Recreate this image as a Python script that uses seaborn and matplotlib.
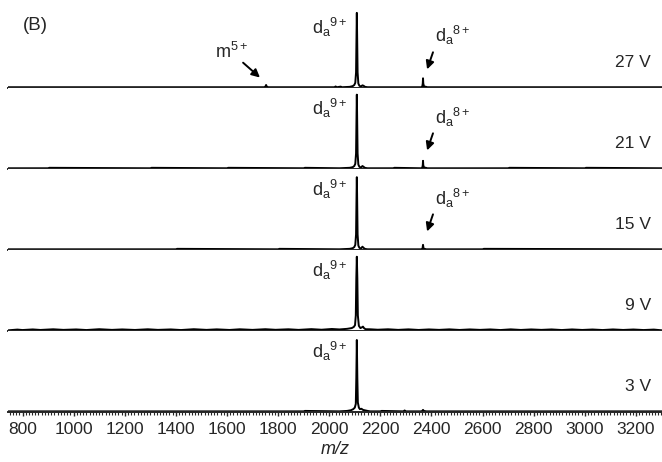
import numpy as np
import pandas as pd
import matplotlib
matplotlib.use('Agg')
import matplotlib.pyplot as plt
from matplotlib.ticker import MultipleLocator
import seaborn as sns

# 各电压下的质谱数据 (m/z, 相对强度)
voltages = ['27 V', '21 V', '15 V', '9 V', '3 V']

mz_27 = [743, 1500, 1745, 1750, 1753, 1756, 1762, 2020, 2025, 2030, 2045, 2050, 2080,
         2092, 2098, 2102, 2105, 2107, 2108, 2109, 2111, 2114, 2118, 2124, 2130, 2134,
         2140, 2150, 2360, 2364, 2366, 2367, 2368, 2371, 2378, 2384, 3302]
int_27 = [0, 0, 0, 0.006, 0.03, 0.006, 0, 0, 0.01, 0, 0.008, 0, 0.005,
          0.015, 0.03, 0.06, 0.2, 0.75, 1.0, 0.75, 0.2, 0.05, 0.02, 0.01, 0.025, 0.02,
          0.005, 0, 0, 0.01, 0.05, 0.12, 0.05, 0.01, 0.006, 0, 0]

mz_21 = [743, 900, 905, 1300, 1305, 1600, 1605, 1900, 1905, 2040, 2080, 2092, 2098,
         2102, 2105, 2107, 2108, 2109, 2111, 2114, 2118, 2124, 2130, 2134, 2140, 2150,
         2250, 2255, 2360, 2364, 2366, 2367, 2368, 2371, 2378, 2384, 2700, 2705,
         3000, 3005, 3302]
int_21 = [0, 0, 0.006, 0, 0.006, 0, 0.006, 0, 0.006, 0, 0.006, 0.015, 0.03,
          0.06, 0.2, 0.75, 0.99, 0.75, 0.2, 0.05, 0.02, 0.01, 0.03, 0.02, 0.005, 0,
          0, 0.006, 0, 0.008, 0.04, 0.1, 0.04, 0.01, 0.006, 0, 0, 0.006,
          0, 0.006, 0]

mz_15 = [743, 1400, 1405, 1800, 1805, 2040, 2080, 2092, 2098, 2102, 2105, 2107, 2108,
         2109, 2111, 2114, 2118, 2124, 2130, 2134, 2140, 2150, 2360, 2365, 2367, 2369,
         2374, 2380, 2600, 2605, 3302]
int_15 = [0, 0, 0.006, 0, 0.006, 0, 0.006, 0.015, 0.03, 0.06, 0.2, 0.75, 0.97,
          0.75, 0.2, 0.05, 0.02, 0.01, 0.035, 0.02, 0.005, 0, 0, 0.01, 0.06, 0.01,
          0.005, 0, 0, 0.006, 0]

mz_9 = [743, 780, 800, 840, 870, 920, 960, 1010, 1050, 1100, 1150, 1190, 1240, 1290,
        1330, 1380, 1420, 1470, 1520, 1560, 1610, 1650, 1700, 1750, 1790, 1840, 1880,
        1930, 1970, 2010, 2040, 2070, 2088, 2096, 2101, 2104, 2106, 2108, 2110, 2112,
        2116, 2122, 2128, 2132, 2136, 2142, 2160, 2190, 2230, 2270, 2310, 2350, 2390,
        2430, 2470, 2510, 2550, 2590, 2630, 2670, 2710, 2750, 2790, 2830, 2870, 2910,
        2950, 2990, 3030, 3070, 3110, 3150, 3190, 3230, 3270, 3302]
int_9 = [0, 0.01, 0.004, 0.012, 0.005, 0.014, 0.006, 0.012, 0.004, 0.015, 0.006, 0.012,
         0.005, 0.014, 0.006, 0.012, 0.004, 0.015, 0.006, 0.013, 0.005, 0.014, 0.006,
         0.015, 0.007, 0.014, 0.006, 0.016, 0.008, 0.018, 0.012, 0.02, 0.03, 0.045,
         0.07, 0.2, 0.7, 0.99, 0.7, 0.2, 0.06, 0.03, 0.04, 0.05, 0.03, 0.015, 0.014,
         0.008, 0.014, 0.006, 0.013, 0.005, 0.012, 0.006, 0.013, 0.005, 0.012, 0.006,
         0.012, 0.004, 0.013, 0.005, 0.012, 0.006, 0.012, 0.004, 0.012, 0.005, 0.011,
         0.004, 0.012, 0.005, 0.011, 0.004, 0.01, 0]

mz_3 = [743, 1900, 1905, 2040, 2070, 2085, 2094, 2100, 2104, 2106, 2108, 2110, 2112,
        2116, 2120, 2126, 2132, 2138, 2150, 2160, 2200, 2205, 2290, 2295, 2300, 2360,
        2364, 2367, 2370, 2380, 3302]
int_3 = [0, 0, 0.006, 0, 0.006, 0.015, 0.03, 0.05, 0.1, 0.45, 0.96, 0.45, 0.12,
         0.05, 0.03, 0.035, 0.02, 0.015, 0.006, 0, 0, 0.006, 0, 0.012, 0, 0,
         0.006, 0.02, 0.006, 0, 0]

spectra = [(mz_27, int_27), (mz_21, int_21), (mz_15, int_15), (mz_9, int_9), (mz_3, int_3)]
has_8plus = [True, True, True, False, False]

sns.set_style("ticks")
plt.rcParams['font.family'] = ['Liberation Sans', 'DejaVu Sans']
plt.rcParams['mathtext.fontset'] = 'custom'
plt.rcParams['mathtext.rm'] = 'Liberation Sans'
plt.rcParams['mathtext.it'] = 'Liberation Sans:italic'

fig, axes = plt.subplots(5, 1, sharex=True, figsize=(6.62, 4.62), dpi=100)
fig.subplots_adjust(left=0.012, right=1.0, bottom=0.108, top=0.985, hspace=0)

arrow_kw = dict(arrowstyle='-|>', color='k', lw=1.4, mutation_scale=12, shrinkA=0, shrinkB=0)

for i, ax in enumerate(axes):
    mz, inten = spectra[i]
    df = pd.DataFrame({'mz': mz, 'I': inten})
    sns.lineplot(x='mz', y='I', data=df, ax=ax, color='k', lw=1.4, estimator=None)
    ax.set_xlim(743, 3302)
    ax.set_ylim(-0.01, 1.08)
    for s in ['top', 'left', 'right']:
        ax.spines[s].set_visible(False)
    ax.spines['bottom'].set_linewidth(1.4)
    ax.set_yticks([])
    ax.set_ylabel('')
    ax.set_xlabel('')
    ax.text(3258, 0.33, voltages[i], ha='right', va='center', fontsize=12.5)
    ax.text(2072, 0.80, r'$\mathrm{d_a}^{9+}$', ha='right', va='center', fontsize=13)
    if has_8plus[i]:
        ax.text(2414, 0.69, r'$\mathrm{d_a}^{8+}$', ha='left', va='center', fontsize=13)
        ax.annotate('', xy=(2383, 0.24), xytext=(2406, 0.47), arrowprops=arrow_kw)
    if i < 4:
        ax.tick_params(axis='x', which='both', bottom=False, labelbottom=False)

# m5+ 标注
axes[0].text(1553, 0.47, r'$\mathrm{m}^{5+}$', ha='left', va='center', fontsize=13)
axes[0].annotate('', xy=(1729, 0.13), xytext=(1663, 0.33), arrowprops=arrow_kw)

ax = axes[-1]
ax.xaxis.set_major_locator(MultipleLocator(200))
ax.xaxis.set_minor_locator(MultipleLocator(12.5))
ax.set_xticks(np.arange(800, 3201, 200))
ax.tick_params(axis='x', which='major', direction='out', length=3, width=1, labelsize=12.5, pad=4)
ax.tick_params(axis='x', which='minor', direction='out', length=1.8, width=0.8)
ax.set_xlabel('m/z', style='italic', fontsize=13, labelpad=3)

fig.text(23 / 662, 1 - 26 / 462, '(B)', ha='left', va='center', fontsize=13.5)

plt.savefig('out.png', dpi=100)
